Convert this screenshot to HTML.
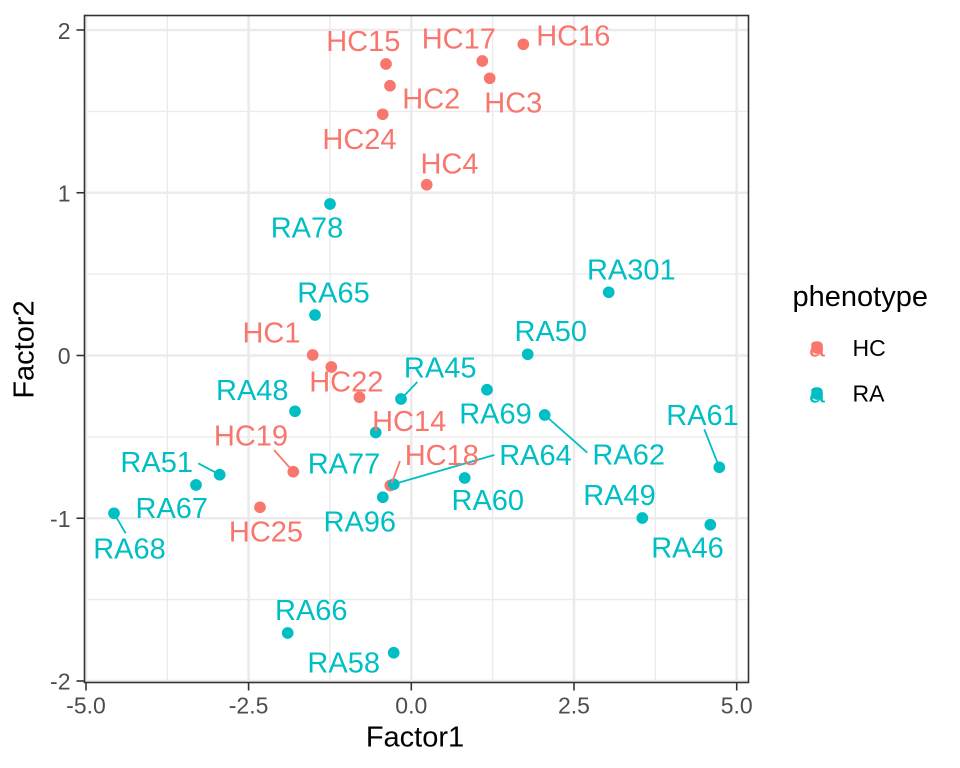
<!DOCTYPE html>
<html><head><meta charset="utf-8"><style>
html,body{margin:0;padding:0;background:#fff;}
svg{display:block;}
text{font-family:"Liberation Sans",Arial,sans-serif;}
</style></head><body>
<svg width="960" height="768" viewBox="0 0 960 768" xmlns="http://www.w3.org/2000/svg">
<rect x="0" y="0" width="960" height="768" fill="#fff"/>
<!-- minor grid -->
<g stroke="#EBEBEB" stroke-width="1.4">
<line x1="167.3" y1="15" x2="167.3" y2="683"/>
<line x1="330" y1="15" x2="330" y2="683"/>
<line x1="492.6" y1="15" x2="492.6" y2="683"/>
<line x1="655.3" y1="15" x2="655.3" y2="683"/>
<line x1="84" y1="111.4" x2="749" y2="111.4"/>
<line x1="84" y1="274.1" x2="749" y2="274.1"/>
<line x1="84" y1="436.9" x2="749" y2="436.9"/>
<line x1="84" y1="599.6" x2="749" y2="599.6"/>
</g>
<!-- major grid -->
<g stroke="#EBEBEB" stroke-width="2.6">
<line x1="86" y1="15" x2="86" y2="683"/>
<line x1="248.6" y1="15" x2="248.6" y2="683"/>
<line x1="411.3" y1="15" x2="411.3" y2="683"/>
<line x1="574" y1="15" x2="574" y2="683"/>
<line x1="736.7" y1="15" x2="736.7" y2="683"/>
<line x1="84" y1="30" x2="749" y2="30"/>
<line x1="84" y1="192.75" x2="749" y2="192.75"/>
<line x1="84" y1="355.5" x2="749" y2="355.5"/>
<line x1="84" y1="518.25" x2="749" y2="518.25"/>
<line x1="84" y1="681" x2="749" y2="681"/>
</g>
<!-- points HC -->
<g fill="#F8766D">
<circle cx="386" cy="64" r="5.85"/>
<circle cx="390" cy="85.7" r="5.85"/>
<circle cx="382.7" cy="114.3" r="5.85"/>
<circle cx="482.3" cy="61" r="5.85"/>
<circle cx="489.7" cy="78.3" r="5.85"/>
<circle cx="523.3" cy="44.3" r="5.85"/>
<circle cx="426.7" cy="184.7" r="5.85"/>
<circle cx="312.7" cy="355" r="5.85"/>
<circle cx="331.3" cy="367" r="5.85"/>
<circle cx="359.5" cy="397.3" r="5.85"/>
<circle cx="293.3" cy="471.7" r="5.85"/>
<circle cx="260" cy="507.3" r="5.85"/>
<circle cx="390.3" cy="485.5" r="5.85"/>
</g>
<!-- points RA -->
<g fill="#00BFC4">
<circle cx="330" cy="204" r="5.85"/>
<circle cx="315" cy="315" r="5.85"/>
<circle cx="608.7" cy="292.3" r="5.85"/>
<circle cx="527.7" cy="354.3" r="5.85"/>
<circle cx="401" cy="399" r="5.85"/>
<circle cx="487" cy="389.7" r="5.85"/>
<circle cx="544.7" cy="415" r="5.85"/>
<circle cx="295" cy="411.3" r="5.85"/>
<circle cx="375.7" cy="432.5" r="5.85"/>
<circle cx="719.3" cy="467.3" r="5.85"/>
<circle cx="219.7" cy="474.7" r="5.85"/>
<circle cx="196" cy="485" r="5.85"/>
<circle cx="114" cy="513.3" r="5.85"/>
<circle cx="393.8" cy="484.3" r="5.85"/>
<circle cx="464.7" cy="478" r="5.85"/>
<circle cx="382.8" cy="497.2" r="5.85"/>
<circle cx="642.3" cy="518" r="5.85"/>
<circle cx="710.3" cy="524.7" r="5.85"/>
<circle cx="287.7" cy="633" r="5.85"/>
<circle cx="393.7" cy="652.7" r="5.85"/>
</g>
<!-- segments -->
<g stroke-width="1.8" stroke-linecap="butt">
<line x1="274" y1="450" x2="293.3" y2="471.7" stroke="#F8766D"/>
<line x1="400" y1="461" x2="391.7" y2="483.3" stroke="#F8766D"/>
<line x1="198.3" y1="463.3" x2="219.7" y2="474.7" stroke="#00BFC4"/>
<line x1="114" y1="513.3" x2="125.7" y2="533.3" stroke="#00BFC4"/>
<line x1="401" y1="399" x2="417.3" y2="382" stroke="#00BFC4"/>
<line x1="544.7" y1="415" x2="587.3" y2="452.7" stroke="#00BFC4"/>
<line x1="719.3" y1="467.3" x2="704.3" y2="429.3" stroke="#00BFC4"/>
<line x1="393.3" y1="484.3" x2="494.3" y2="455" stroke="#00BFC4"/>
</g>
<!-- labels HC -->
<g fill="#F8766D" font-size="29" text-anchor="middle">
<text x="363.3" y="51">HC15</text>
<text x="458.8" y="48.3">HC17</text>
<text x="573.3" y="45.7">HC16</text>
<text x="431.3" y="108.3">HC2</text>
<text x="513.3" y="112.3">HC3</text>
<text x="359.5" y="149">HC24</text>
<text x="449.5" y="173.3">HC4</text>
<text x="271.5" y="342.3">HC1</text>
<text x="346.3" y="391.7">HC22</text>
<text x="409.2" y="431">HC14</text>
<text x="251" y="445.7">HC19</text>
<text x="441.8" y="465">HC18</text>
<text x="266" y="541.7">HC25</text>
</g>
<!-- labels RA -->
<g fill="#00BFC4" font-size="29" text-anchor="middle">
<text x="307" y="237.7">RA78</text>
<text x="333.5" y="302.3">RA65</text>
<text x="631.3" y="279.3">RA301</text>
<text x="550.8" y="341">RA50</text>
<text x="440.2" y="377.3">RA45</text>
<text x="252.3" y="400">RA48</text>
<text x="495.5" y="423.3">RA69</text>
<text x="702.5" y="425">RA61</text>
<text x="628.7" y="464.3">RA62</text>
<text x="535.5" y="465">RA64</text>
<text x="344" y="473.3">RA77</text>
<text x="156.7" y="472">RA51</text>
<text x="487.8" y="510">RA60</text>
<text x="619.5" y="505">RA49</text>
<text x="171.8" y="518">RA67</text>
<text x="359.8" y="531.7">RA96</text>
<text x="687.5" y="557.3">RA46</text>
<text x="129.5" y="558.5">RA68</text>
<text x="311.3" y="620">RA66</text>
<text x="343.7" y="672.7">RA58</text>
</g>
<!-- panel border -->
<rect x="84.5" y="15.5" width="664" height="667" fill="none" stroke="#333333" stroke-width="1.6"/>
<!-- ticks -->
<g stroke="#333333" stroke-width="1.6">
<line x1="86" y1="683" x2="86" y2="690.5"/>
<line x1="248.6" y1="683" x2="248.6" y2="690.5"/>
<line x1="411.3" y1="683" x2="411.3" y2="690.5"/>
<line x1="574" y1="683" x2="574" y2="690.5"/>
<line x1="736.7" y1="683" x2="736.7" y2="690.5"/>
<line x1="76.5" y1="30" x2="84" y2="30"/>
<line x1="76.5" y1="192.75" x2="84" y2="192.75"/>
<line x1="76.5" y1="355.5" x2="84" y2="355.5"/>
<line x1="76.5" y1="518.25" x2="84" y2="518.25"/>
<line x1="76.5" y1="681" x2="84" y2="681"/>
</g>
<g fill="#4D4D4D" font-size="23">
<g text-anchor="middle">
<text x="86" y="713.5">-5.0</text>
<text x="248.6" y="713.5">-2.5</text>
<text x="411.3" y="713.5">0.0</text>
<text x="574" y="713.5">2.5</text>
<text x="736.7" y="713.5">5.0</text>
</g>
<g text-anchor="end">
<text x="70.5" y="39">2</text>
<text x="70.5" y="201.5">1</text>
<text x="70.5" y="364">0</text>
<text x="70.5" y="527">-1</text>
<text x="70.5" y="689.5">-2</text>
</g>
</g>
<!-- axis titles -->
<text x="415" y="746.7" font-size="29" text-anchor="middle" fill="#000">Factor1</text>
<text transform="translate(33.3,349.5) rotate(-90)" font-size="29" text-anchor="middle" fill="#000">Factor2</text>
<!-- legend -->
<text x="792.5" y="306" font-size="29" fill="#000">phenotype</text>
<circle cx="817" cy="348" r="5.85" fill="#F8766D"/>
<text x="817" y="356.5" font-size="29" text-anchor="middle" fill="#F8766D">a</text>
<circle cx="817" cy="394" r="5.85" fill="#00BFC4"/>
<text x="817" y="402.5" font-size="29" text-anchor="middle" fill="#00BFC4">a</text>
<text x="852.5" y="356" font-size="23" fill="#000">HC</text>
<text x="852.5" y="401.7" font-size="23" fill="#000">RA</text>
</svg>
</body></html>
